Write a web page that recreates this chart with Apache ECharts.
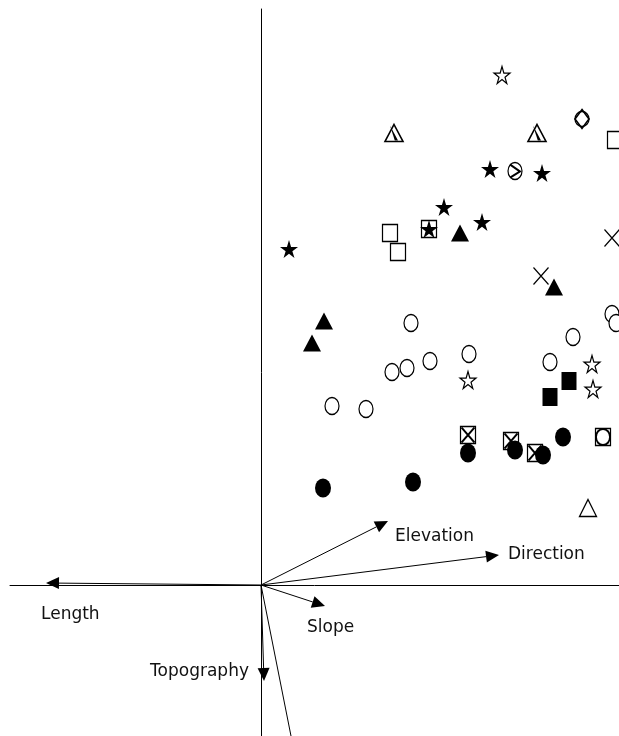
<!DOCTYPE html>
<html lang="en">
<head>
    <meta charset="utf-8">
    <title>Ordination biplot</title>
    <script type="text/javascript" src="https://cdn.jsdelivr.net/npm/echarts@6/dist/echarts.min.js"></script>
    <style>
        html, body { margin: 0; padding: 0; background: #fff; }
        #main { width: 619px; height: 736px; }
    </style>
</head>
<body>
<div id="main"></div>
<script>
    // site scores (axis 1, axis 2), grouped by symbol
    var openCircles = [[1.50, 2.62], [3.12, 2.48], [3.51, 2.71], [3.55, 2.62], [1.31, 2.13], [1.46, 2.17],
        [1.69, 2.24], [2.08, 2.31], [2.89, 2.23], [0.71, 1.79], [1.05, 1.76]];
    var filledCircles = [[2.07, 1.32], [2.54, 1.35], [2.82, 1.30], [3.02, 1.48], [0.62, 0.97], [1.52, 1.03]];
    var openStars = [[2.41, 5.10], [2.07, 2.05], [3.31, 2.21], [3.32, 1.96]];
    var filledStars = [[2.29, 4.16], [2.81, 4.12], [1.83, 3.78], [2.21, 3.63], [0.28, 3.36], [1.68, 3.56]];
    var filledTriangles = [[1.99, 3.52], [2.93, 2.98], [0.63, 2.64], [0.51, 2.42]];
    var openTriangles = [[3.27, 0.77]];
    var halfTriangles = [[1.33, 4.52], [2.76, 4.52]];
    var openSquares = [[3.54, 4.45], [1.29, 3.52], [1.37, 3.33], [1.68, 3.56]];
    var filledSquares = [[3.08, 2.04], [2.89, 1.88]];
    var crossSquares = [[2.07, 1.50], [2.50, 1.44], [2.74, 1.32]];
    var circleSquares = [[3.42, 1.48]];
    var crosses = [[3.51, 3.47], [2.80, 3.09]];
    var slashCircles = [[2.54, 4.14]];
    var diamondCircles = [[3.21, 4.66]];

    // environmental variable vectors
    var envNames = ['Length', 'Elevation', 'Direction', 'Slope', 'Topography', ''];
    var envX = [-2.15, 1.27, 2.38, 0.64, 0.03, 0.30];
    var envY = [0.02, 0.64, 0.30, -0.21, -0.96, -1.51];

    var starPath = 'path://M50,0L61,35L98,35L68,57L79,91L50,70L21,91L32,57L2,35L39,35Z';
    var crossPath = 'path://M0,0L100,100M100,0L0,100';
    var wedgePath = 'path://M50,0L100,100L80,100Z';
    var chevronPath = 'path://M20,12L88,55L22,92';

    // label placement relative to arrow tip (px)
    var labelPos = {
        'Length': {dx: -5, dy: 32, align: 'left'},
        'Elevation': {dx: 7, dy: 16, align: 'left'},
        'Direction': {dx: 9, dy: 0, align: 'left'},
        'Slope': {dx: -18, dy: 22, align: 'left'},
        'Topography': {dx: -15, dy: -9, align: 'right'}
    };

    var open = {color: '#fff', borderColor: '#000', borderWidth: 1.3, opacity: 1};
    var solid = {color: '#000', opacity: 1};
    var stroke = {color: 'transparent', borderColor: '#000', borderWidth: 1.3, opacity: 1};

    function sc(data, symbol, size, style) {
        style.opacity = 1;
        return {
            type: 'scatter', data: data, symbol: symbol, symbolSize: size,
            itemStyle: style, silent: true, animation: false
        };
    }

    var envData = envX.map(function (x, i) { return [x, envY[i]]; });

    var myChart = echarts.init(document.getElementById('main'));
    var option = {
        animation: false,
        grid: {left: 10, right: 0, top: 9, bottom: 0},
        xAxis: {
            type: 'value', min: -2.51, max: 3.58,
            axisLine: {onZero: true, lineStyle: {color: '#000', width: 1}},
            axisTick: {show: false}, axisLabel: {show: false}, splitLine: {show: false}
        },
        yAxis: {
            type: 'value', min: -1.51, max: 5.76,
            axisLine: {onZero: true, lineStyle: {color: '#000', width: 1}},
            axisTick: {show: false}, axisLabel: {show: false}, splitLine: {show: false}
        },
        series: [
            sc(openSquares, 'rect', [15, 17], open),
            sc(crossSquares, 'rect', [15, 17], open),
            sc(crossSquares, crossPath, [13, 15], {color: 'transparent', borderColor: '#000', borderWidth: 2}),
            sc(circleSquares, 'rect', [15, 17], open),
            sc(circleSquares, 'circle', [14, 16], {color: '#fff', borderColor: '#000', borderWidth: 2}),
            sc(filledSquares, 'rect', [15, 18], solid),
            sc(openCircles, 'circle', [14, 17], open),
            sc(filledCircles, 'circle', [16, 19], solid),
            sc(slashCircles, 'circle', [14, 17], open),
            sc(slashCircles, chevronPath, [10, 13], {color: 'transparent', borderColor: '#000', borderWidth: 1.8}),
            sc(diamondCircles, 'circle', [14, 15], open),
            sc(diamondCircles, 'diamond', [14, 19], {color: 'transparent', borderColor: '#000', borderWidth: 1.6}),
            sc(openStars, starPath, [16, 17], {color: '#fff', borderColor: '#000', borderWidth: 1.2}),
            sc(filledStars, starPath, [18, 18], solid),
            sc(filledTriangles, 'triangle', [18, 17], solid),
            sc(openTriangles, 'triangle', [17, 17], open),
            sc(halfTriangles, 'triangle', [18, 17], {color: '#fff', borderColor: '#000', borderWidth: 1.6}),
            sc(halfTriangles, wedgePath, [8, 15], solid),
            sc(crosses, crossPath, [15, 17], stroke),
            {
                type: 'custom',
                data: envData,
                silent: true,
                animation: false,
                renderItem: function (params, api) {
                    var name = envNames[params.dataIndex];
                    var o = api.coord([0, 0]);
                    var t = api.coord([api.value(0), api.value(1)]);
                    if (!name) {
                        return {
                            type: 'line',
                            shape: {x1: o[0], y1: o[1], x2: t[0], y2: t[1]},
                            style: {stroke: '#000', lineWidth: 1}
                        };
                    }
                    var a = Math.atan2(t[1] - o[1], t[0] - o[0]);
                    var len = 13, hw = 6;
                    var bx = t[0] - len * Math.cos(a), by = t[1] - len * Math.sin(a);
                    var px = -Math.sin(a) * hw, py = Math.cos(a) * hw;
                    var lp = labelPos[name];
                    return {
                        type: 'group',
                        children: [
                            {
                                type: 'line',
                                shape: {x1: o[0], y1: o[1], x2: bx, y2: by},
                                style: {stroke: '#000', lineWidth: 1}
                            },
                            {
                                type: 'polygon',
                                shape: {points: [[t[0], t[1]], [bx + px, by + py], [bx - px, by - py]]},
                                style: {fill: '#000'}
                            },
                            {
                                type: 'text',
                                style: {
                                    text: name, x: t[0] + lp.dx, y: t[1] + lp.dy,
                                    align: lp.align, verticalAlign: 'middle',
                                    font: '17px "DejaVu Sans"', fill: '#111'
                                }
                            }
                        ]
                    };
                }
            }
        ]
    };
    myChart.setOption(option);
</script>
</body>
</html>
